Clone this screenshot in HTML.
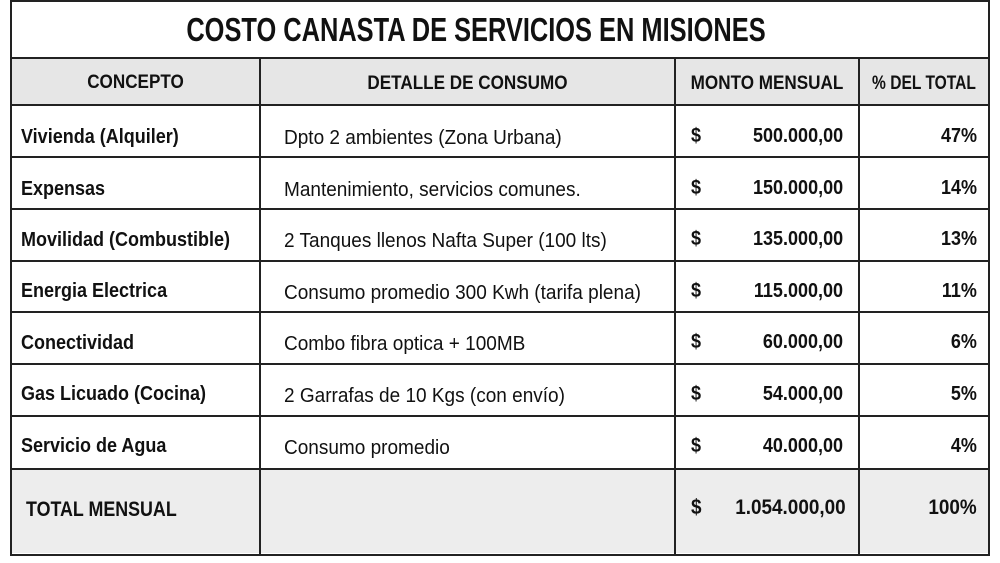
<!DOCTYPE html>
<html><head><meta charset="utf-8"><style>
body{margin:0;width:1000px;height:563px;background:#fff;position:relative;overflow:hidden;font-family:"Liberation Sans",sans-serif;color:#111}
.box{position:absolute;left:10px;top:0;width:976px;height:552px;border:2px solid #222;box-sizing:content-box}
.h{position:absolute;background:#222;height:2px}
.v{position:absolute;background:#222;width:2px}
.t{position:absolute;white-space:nowrap;font-size:20px;line-height:24px}
.b{font-weight:bold;transform:scaleX(0.9);transform-origin:left center}
.r{transform-origin:right center}
.c{transform-origin:center center}
.n{transform:scaleX(0.95);transform-origin:left center}
</style></head><body>
<div style="position:absolute;left:12px;top:58px;width:976px;height:47px;background:#e6e6e6"></div>
<div style="position:absolute;left:12px;top:469px;width:976px;height:84px;background:#ededed"></div>
<div class="box"></div>
<div class="h" style="left:10px;width:978px;top:57px"></div>
<div class="h" style="left:10px;width:978px;top:104px"></div>
<div class="h" style="left:10px;width:978px;top:156px"></div>
<div class="h" style="left:10px;width:978px;top:208px"></div>
<div class="h" style="left:10px;width:978px;top:260px"></div>
<div class="h" style="left:10px;width:978px;top:311px"></div>
<div class="h" style="left:10px;width:978px;top:363px"></div>
<div class="h" style="left:10px;width:978px;top:415px"></div>
<div class="h" style="left:10px;width:978px;top:468px"></div>
<div class="v" style="left:259px;top:57px;height:497px"></div>
<div class="v" style="left:674px;top:57px;height:497px"></div>
<div class="v" style="left:858px;top:57px;height:497px"></div>
<div class="t b c" style="left:0;width:952px;text-align:center;top:11px;font-size:33px;line-height:38px;transform:scaleX(0.77)">COSTO CANASTA DE SERVICIOS EN MISIONES</div>
<div class="t b c" style="left:12px;width:247px;text-align:center;top:71px;font-size:19px">CONCEPTO</div>
<div class="t b c" style="left:261px;width:413px;text-align:center;top:72px;font-size:19px">DETALLE DE CONSUMO</div>
<div class="t b c" style="left:676px;width:182px;text-align:center;top:72px;font-size:19px">MONTO MENSUAL</div>
<div class="t b c" style="left:860px;width:128px;text-align:center;top:72px;font-size:19px;transform:scaleX(0.82)">% DEL TOTAL</div>

<div class="t b" style="left:21px;top:125px">Vivienda (Alquiler)</div><div class="t n" style="left:284px;top:126px">Dpto 2 ambientes (Zona Urbana)</div><div class="t b" style="left:691px;top:124px">$</div><div class="t b r" style="right:157px;top:124px">500.000,00</div><div class="t b r" style="right:23px;top:124px">47%</div>
<div class="t b" style="left:21px;top:177px">Expensas</div><div class="t n" style="left:284px;top:178px">Mantenimiento, servicios comunes.</div><div class="t b" style="left:691px;top:176px">$</div><div class="t b r" style="right:157px;top:176px">150.000,00</div><div class="t b r" style="right:23px;top:176px">14%</div>
<div class="t b" style="left:21px;top:228px">Movilidad (Combustible)</div><div class="t n" style="left:284px;top:229px">2 Tanques llenos Nafta Super (100 lts)</div><div class="t b" style="left:691px;top:227px">$</div><div class="t b r" style="right:157px;top:227px">135.000,00</div><div class="t b r" style="right:23px;top:227px">13%</div>
<div class="t b" style="left:21px;top:279px">Energia Electrica</div><div class="t n" style="left:284px;top:281px">Consumo promedio 300 Kwh (tarifa plena)</div><div class="t b" style="left:691px;top:279px">$</div><div class="t b r" style="right:157px;top:279px">115.000,00</div><div class="t b r" style="right:23px;top:279px">11%</div>
<div class="t b" style="left:21px;top:331px">Conectividad</div><div class="t n" style="left:284px;top:332px">Combo fibra optica + 100MB</div><div class="t b" style="left:691px;top:330px">$</div><div class="t b r" style="right:157px;top:330px">60.000,00</div><div class="t b r" style="right:23px;top:330px">6%</div>
<div class="t b" style="left:21px;top:382px">Gas Licuado (Cocina)</div><div class="t n" style="left:284px;top:384px">2 Garrafas de 10 Kgs (con envío)</div><div class="t b" style="left:691px;top:382px">$</div><div class="t b r" style="right:157px;top:382px">54.000,00</div><div class="t b r" style="right:23px;top:382px">5%</div>
<div class="t b" style="left:21px;top:434px">Servicio de Agua</div><div class="t n" style="left:284px;top:436px">Consumo promedio</div><div class="t b" style="left:691px;top:434px">$</div><div class="t b r" style="right:157px;top:434px">40.000,00</div><div class="t b r" style="right:23px;top:434px">4%</div>
<div class="t b" style="left:26px;top:498px;font-size:21px;font-weight:600;transform:scaleX(0.85)">TOTAL MENSUAL</div><div class="t b" style="left:691px;top:496px;font-size:21px">$</div><div class="t b r" style="right:154px;top:496px;font-size:21px">1.054.000,00</div><div class="t b r" style="right:23px;top:496px;font-size:21px">100%</div>
</body></html>
